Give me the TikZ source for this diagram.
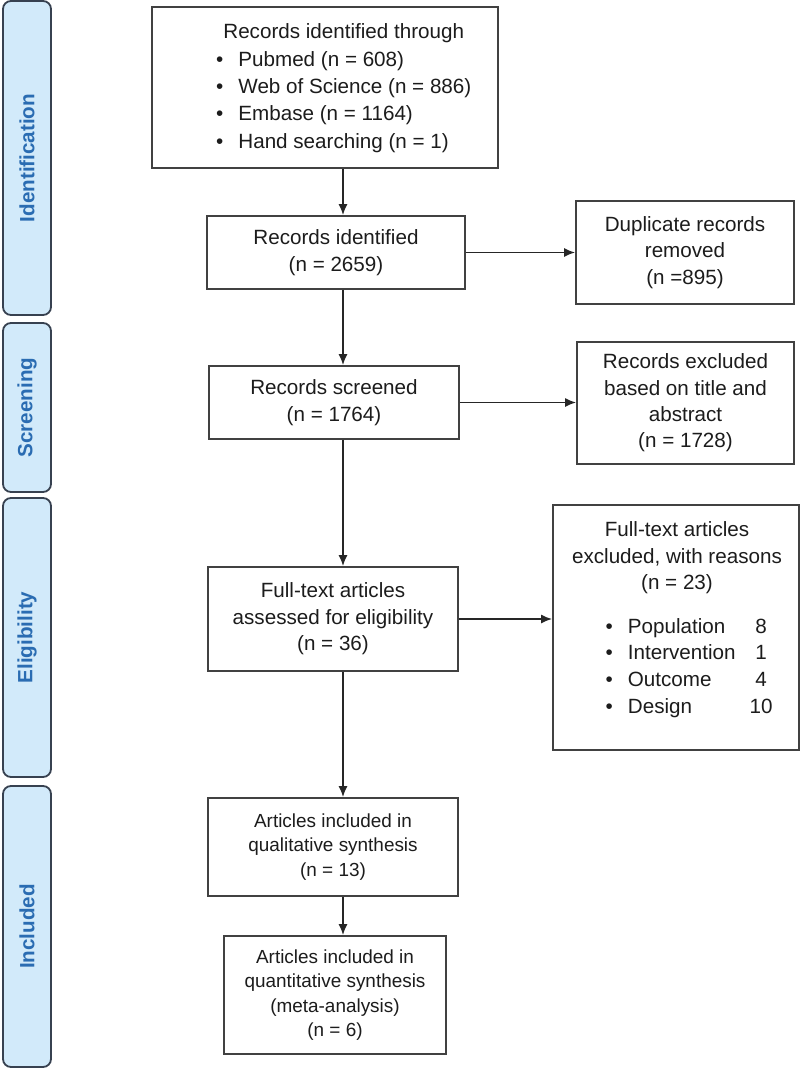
\documentclass[tikz,border=0pt]{standalone}
\usepackage{fontspec}
\setmainfont{Liberation Sans}
\usetikzlibrary{arrows.meta}
\definecolor{barfill}{RGB}{210,234,250}
\definecolor{bartext}{RGB}{42,108,178}
\definecolor{barline}{RGB}{55,65,80}
\definecolor{boxline}{RGB}{65,65,65}
\definecolor{boxtext}{RGB}{28,28,28}
\tikzset{
  stagebar/.style={draw=barline,line width=1.8bp,fill=barfill,rounded corners=8bp,rotate=90,
    text=bartext,font=\fontsize{20.7}{24}\selectfont\bfseries},
  flowbox/.style={draw=boxline,line width=1.7bp,fill=white,inner sep=0pt,text=boxtext,
    align=center,font=\fontsize{20.7}{26.5}\selectfont},
  smallbox/.style={flowbox,font=\fontsize{19}{24.5}\selectfont},
  flowtext/.style={text=boxtext,inner sep=0pt,align=center,font=\fontsize{20.7}{26.5}\selectfont},
  flowarrow/.style={draw=black!85,line width=1.7bp,-{Latex[length=11bp,width=9bp]}},
}
\begin{document}
\begin{tikzpicture}[x=1bp,y=-1bp]
\useasboundingbox (0,0) rectangle (800,1069);
%% stages
\node (bar_ident) at (27,158) [stagebar,minimum width=314bp,minimum height=48bp] {Identification};
\node (bar_screen) at (27,407.5) [stagebar,minimum width=169bp,minimum height=48bp] {Screening};
\node (bar_elig) at (27,637.5) [stagebar,minimum width=279bp,minimum height=48bp] {Eligibility};
\node (bar_incl) at (27,926.5) [stagebar,minimum width=281bp,minimum height=48bp] {Included};
%% boxes
\node (srch) at (325,87.5) [flowbox,minimum width=346bp,minimum height=161bp] {};
\node (srch_list) at (216,88) [flowtext,anchor=west] {\def\arraystretch{1.04}\begin{tabular}{@{}l@{}}
  \multicolumn{1}{@{}c@{}}{Records identified through}\\
  \textbullet\hspace{15bp}Pubmed (n = 608)\\
  \textbullet\hspace{15bp}Web of Science (n = 886)\\
  \textbullet\hspace{15bp}Embase (n = 1164)\\
  \textbullet\hspace{15bp}Hand searching (n = 1)
  \end{tabular}};
\node (idf) at (336,252.5) [flowbox,minimum width=258bp,minimum height=73bp] {Records identified\\(n = 2659)};
\node (dup) at (685,252.5) [flowbox,minimum width=218bp,minimum height=103bp] {Duplicate records\\removed\\(n =895)};
\node (scr) at (334,402.5) [flowbox,minimum width=250bp,minimum height=73bp] {Records screened\\(n = 1764)};
\node (excl) at (685.5,403) [flowbox,minimum width=217bp,minimum height=122bp] {Records excluded\\based on title and\\abstract\\(n = 1728)};
\node (full) at (333,619) [flowbox,minimum width=250bp,minimum height=104bp] {Full-text articles\\assessed for eligibility\\(n = 36)};
\node (fexcl) at (676,627.5) [flowbox,minimum width=246bp,minimum height=245bp] {};
\node (fexcl_head) at (677,558) [flowtext] {Full-text articles\\excluded, with reasons\\(n = 23)};
\node (fexcl_list) at (605.5,668) [flowtext,anchor=west] {\def\arraystretch{1.02}\begin{tabular}{@{}l@{\hspace{14bp}}c@{}}
  \textbullet\hspace{15bp}Population & 8\\
  \textbullet\hspace{15bp}Intervention & 1\\
  \textbullet\hspace{15bp}Outcome & 4\\
  \textbullet\hspace{15bp}Design & 10
  \end{tabular}};
\node (qual) at (333,847) [smallbox,minimum width=250bp,minimum height=98bp] {Articles included in\\qualitative synthesis\\(n = 13)};
\node (quant) at (335,995) [smallbox,minimum width=222bp,minimum height=118bp] {Articles included in\\quantitative synthesis\\(meta-analysis)\\(n = 6)};
%% connectors
\coordinate (spine) at (343,0);
\draw [flowarrow] (srch.south -| spine) -- (idf.north -| spine);
\draw [flowarrow] (idf.east) -- (dup.west);
\draw [flowarrow] (idf.south -| spine) -- (scr.north -| spine);
\draw [flowarrow] (scr.east) -- (scr.east -| excl.west);
\draw [flowarrow] (scr.south -| spine) -- (full.north -| spine);
\draw [flowarrow] (full.east) -- (full.east -| fexcl.west);
\draw [flowarrow] (full.south -| spine) -- (qual.north -| spine);
\draw [flowarrow] (qual.south -| spine) -- (quant.north -| spine);
%
\end{tikzpicture}
\end{document}
